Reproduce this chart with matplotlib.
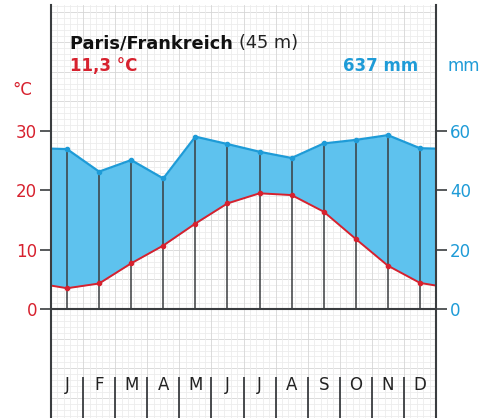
import numpy as np
import matplotlib
matplotlib.use("Agg")
import matplotlib.pyplot as plt

plt.rcParams['font.family'] = ['DejaVu Sans']

months = ["J", "F", "M", "A", "M", "J", "J", "A", "S", "O", "N", "D"]
temp = [3.5, 4.3, 7.7, 10.7, 14.4, 17.8, 19.5, 19.2, 16.4, 11.8, 7.3, 4.4]
precip = [53.9, 46.3, 50.2, 44.0, 58.1, 55.6, 53.0, 50.9, 55.8, 57.0, 58.6, 54.2]
temp_ticks = [0, 10, 20, 30]
precip_ticks = [0, 20, 40, 60]
station = "Paris/Frankreich"
altitude = "(45 m)"
mean_temp = "11,3 °C"
total_precip = "637 mm"

RED = "#d7212e"
BLUE = "#1e9bd7"
FILL = "#5ec2ee"
DARK = "#3a3d40"
FS = 12

W, H = 490, 418
fig = plt.figure(figsize=(W / 100, H / 100), dpi=100)
left_px, right_px, top_px = 51, 436, 5
ax = fig.add_axes([left_px / W, 0, (right_px - left_px) / W, (H - top_px) / H])

px_per_deg = (309 - 131) / 30.0
ymin = -(H - 309) / px_per_deg
ymax = (309 - top_px) / px_per_deg
ax.set_xlim(0, 12)
ax.set_ylim(ymin, ymax)

# grid
for y in np.arange(np.ceil(ymin), ymax, 1):
    c = "#d6d6d6" if int(round(y)) % 5 == 0 else "#ececec"
    ax.axhline(y, color=c, lw=0.6, zorder=0)
for x in np.arange(0, 12.001, 0.2):
    c = "#d6d6d6" if abs(x - round(x)) < 1e-6 else "#ececec"
    ax.axvline(x, color=c, lw=0.6, zorder=0)

xc = np.arange(12) + 0.5
t = np.array(temp)
p = np.array(precip) / 2.0
# cyclic wrap at edges
xe = np.concatenate([[0], xc, [12]])
te = np.concatenate([[(t[0] + t[-1]) / 2], t, [(t[0] + t[-1]) / 2]])
pe = np.concatenate([[(p[0] + p[-1]) / 2], p, [(p[0] + p[-1]) / 2]])

ax.fill_between(xe, te, pe, color=FILL, lw=0, zorder=2)
ax.vlines(xc, 0, np.maximum(p, t), color=DARK, lw=1.1, zorder=3)
ax.plot(xe, pe, color=BLUE, lw=1.6, zorder=4)
ax.plot(xc, p, 'o', color=BLUE, ms=3, zorder=5)
ax.plot(xe, te, color=RED, lw=1.4, zorder=4)
ax.plot(xc, t, 'o', color=RED, ms=3, zorder=5)

ax.axhline(0, color=DARK, lw=1.5, zorder=6)

# spines
for s in ["top", "bottom"]:
    ax.spines[s].set_visible(False)
for s in ["left", "right"]:
    ax.spines[s].set_color(DARK)
    ax.spines[s].set_linewidth(1.5)
    ax.spines[s].set_zorder(7)

ax.set_xticks([])
ax.set_yticks(temp_ticks)
ax.set_yticklabels([str(v) for v in temp_ticks])
ax.tick_params(axis='y', colors=DARK, labelcolor=RED, labelsize=FS, length=8, width=1.2, pad=2)

ax2 = ax.twinx()
ax2.set_ylim(ymin * 2, ymax * 2)
ax2.set_yticks(precip_ticks)
ax2.set_yticklabels([str(v) for v in precip_ticks])
ax2.tick_params(axis='y', colors=DARK, labelcolor=BLUE, labelsize=FS, length=8, width=1.2, pad=2)
for s in ax2.spines.values():
    s.set_visible(False)

# month labels and separators
lab_y = -(385 - 309) / px_per_deg
sep_top = -(377 - 309) / px_per_deg
for i, m in enumerate(months):
    ax.text(xc[i], lab_y, m, ha='center', va='center', fontsize=FS, color="#222222", zorder=8)
ax.vlines(np.arange(1, 12), ymin, sep_top, color=DARK, lw=1.3, zorder=8)

# titles
t1 = fig.text(70 / W, 1 - 43 / H, station + " ", fontsize=12.8, fontweight='bold', color="#111111", va='center', ha='left')
fig.canvas.draw()
bb = t1.get_window_extent()
fig.text(bb.x1 / W, 1 - 43 / H, altitude, fontsize=12.8, color="#222222", va='center', ha='left')
fig.text(70 / W, 1 - 66 / H, mean_temp, fontsize=FS, fontweight='bold', color=RED, va='center', ha='left')
fig.text(418 / W, 1 - 66 / H, total_precip, fontsize=FS, fontweight='bold', color=BLUE, va='center', ha='right')
fig.text(22 / W, 1 - 90 / H, "°C", fontsize=FS, color=RED, va='center', ha='center')
fig.text(464 / W, 1 - 66 / H, "mm", fontsize=FS, color=BLUE, va='center', ha='center')

fig.savefig("out.png", dpi=100)
